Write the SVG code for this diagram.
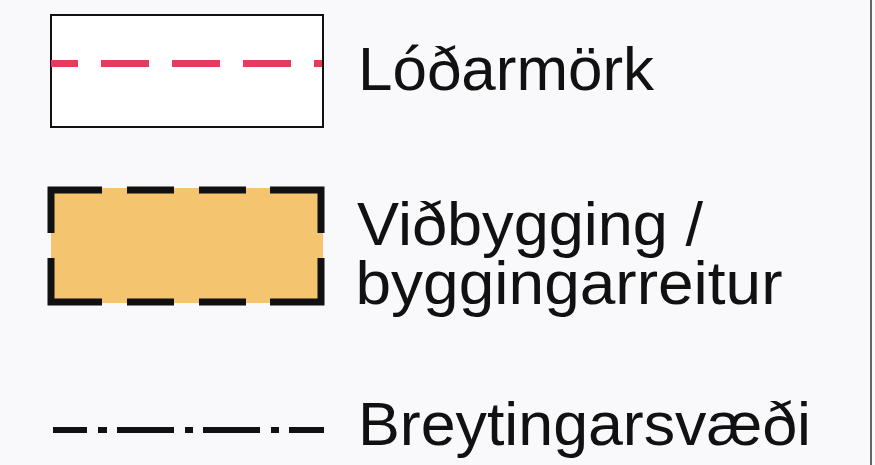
<svg xmlns="http://www.w3.org/2000/svg" width="875" height="465" viewBox="0 0 875 465">
  <style>
    .lbl { font-family: "Liberation Sans", Arial, sans-serif; font-size: 62px; fill: #111; }
    .blk { fill: none; stroke: #111; stroke-linecap: butt; }
  </style>
  <rect x="0" y="0" width="875" height="465" fill="#f9f9fb"/>
  <line x1="871" y1="0" x2="871" y2="465" stroke="#333" stroke-width="1.5"/>

  <g id="lodarmork">
    <rect x="51" y="15" width="272" height="112" fill="#ffffff" stroke="#111" stroke-width="2"/>
    <line x1="51" y1="63.5" x2="322" y2="63.5" stroke="#e63a5e" stroke-width="7" stroke-dasharray="48 23" stroke-dashoffset="21"/>
    <text class="lbl" x="358" y="90" textLength="296" lengthAdjust="spacingAndGlyphs">Lóðarmörk</text>
  </g>

  <g id="vidbygging">
    <rect x="51" y="188" width="272" height="115" fill="#f4c56e"/>
    <path class="blk" stroke-width="7" stroke-linejoin="miter" d="M51,233 V190 H102 M127,190 H174 M199,190 H246 M270,190 H321 V233 M321,258 V302 H270 M246,302 H199 M174,302 H127 M102,302 H51 V258"/>
    <text class="lbl" x="357" y="245" textLength="346" lengthAdjust="spacingAndGlyphs">Viðbygging /</text>
    <text class="lbl" x="355.5" y="304" textLength="427" lengthAdjust="spacingAndGlyphs">byggingarreitur</text>
  </g>

  <g id="breytingarsvaedi">
    <path class="blk" stroke-width="6" d="M53,430 H87 M98,430 H107 M117,430 H174 M185,430 H193 M203,430 H260 M271,430 H279 M289,430 H324"/>
    <text class="lbl" x="358" y="445" textLength="453" lengthAdjust="spacingAndGlyphs">Breytingarsvæði</text>
  </g>
</svg>
